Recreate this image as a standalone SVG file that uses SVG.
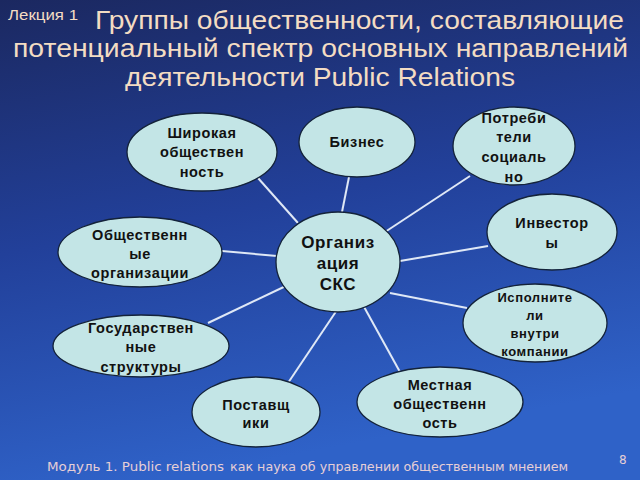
<svg xmlns="http://www.w3.org/2000/svg" width="640" height="480" viewBox="0 0 640 480">
<defs>
<linearGradient id="bg" x1="0" y1="0" x2="0.25" y2="1">
<stop offset="0" stop-color="#1b2860"/>
<stop offset="0.5" stop-color="#22409a"/>
<stop offset="1" stop-color="#2f62c8"/>
</linearGradient>
<style>
.n ellipse{fill:#c3e5e6;stroke:#14233a;stroke-width:1.3}
.n text{font-family:"Liberation Sans",Arial,sans-serif;font-weight:bold;font-size:14.5px;fill:#111;text-anchor:middle;letter-spacing:0.6px}
.c line{stroke:#dfe8f6;stroke-width:2}
.t{font-family:"Liberation Sans",Arial,sans-serif;fill:#f3dcc3}
.f{font-family:"DejaVu Sans",Verdana,sans-serif;fill:#e6cfd6}
</style>
</defs>
<rect width="640" height="480" fill="url(#bg)"/>
<text class="t" x="8" y="19.5" font-size="14" textLength="70" lengthAdjust="spacingAndGlyphs">Лекция 1</text>
<text class="t" x="95" y="28.5" font-size="26" textLength="529" lengthAdjust="spacingAndGlyphs">Группы общественности, составляющие</text>
<text class="t" x="13" y="57" font-size="26" textLength="615" lengthAdjust="spacingAndGlyphs">потенциальный спектр основных направлений</text>
<text class="t" x="125" y="85.5" font-size="26" textLength="390" lengthAdjust="spacingAndGlyphs">деятельности Public Relations</text>
<g class="c">
<line x1="258" y1="178" x2="298" y2="223"/>
<line x1="349" y1="177" x2="342" y2="212"/>
<line x1="470" y1="176" x2="385" y2="232"/>
<line x1="488" y1="246" x2="400" y2="261"/>
<line x1="390" y1="293" x2="467" y2="308"/>
<line x1="363" y1="305" x2="400" y2="372"/>
<line x1="337" y1="310" x2="288" y2="383"/>
<line x1="208" y1="323" x2="290" y2="284"/>
<line x1="222" y1="251" x2="277" y2="256"/>
</g>
<g id="center" class="n">
<ellipse cx="338" cy="262" rx="62" ry="50"/>
<text x="338" y="248" style="font-size:17px">Организ</text>
<text x="338" y="269" style="font-size:17px">ация</text>
<text x="338" y="290" style="font-size:17px">СКС</text>
</g>
<g id="shirokaya" class="n">
<ellipse cx="202" cy="152" rx="75" ry="39"/>
<text x="202" y="138">Широкая</text>
<text x="202" y="157">обществен</text>
<text x="202" y="177">ность</text>
</g>
<g id="biznes" class="n">
<ellipse cx="357" cy="142" rx="58" ry="35"/>
<text x="357" y="147">Бизнес</text>
</g>
<g id="potrebiteli" class="n">
<ellipse cx="514" cy="146" rx="61" ry="39"/>
<text x="514" y="123">Потреби</text>
<text x="514" y="142">тели</text>
<text x="514" y="162">социаль</text>
<text x="514" y="182">но</text>
</g>
<g id="investory" class="n">
<ellipse cx="552" cy="232" rx="65" ry="38"/>
<text x="552" y="228">Инвестор</text>
<text x="552" y="248">ы</text>
</g>
<g id="ispolniteli" class="n">
<ellipse cx="535" cy="323" rx="72" ry="39"/>
<text x="535" y="302" style="font-size:13px">Исполните</text>
<text x="535" y="320" style="font-size:13px">ли</text>
<text x="535" y="338" style="font-size:13px">внутри</text>
<text x="535" y="356" style="font-size:13px">компании</text>
</g>
<g id="mestnaya" class="n">
<ellipse cx="440" cy="402" rx="83" ry="35"/>
<text x="440" y="390">Местная</text>
<text x="440" y="409">общественн</text>
<text x="440" y="428">ость</text>
</g>
<g id="postavshchiki" class="n">
<ellipse cx="256" cy="412" rx="64" ry="35"/>
<text x="256" y="410">Поставщ</text>
<text x="256" y="428">ики</text>
</g>
<g id="gosudarstvennye" class="n">
<ellipse cx="141" cy="346" rx="88" ry="31"/>
<text x="141" y="333">Государствен</text>
<text x="141" y="352">ные</text>
<text x="141" y="372">структуры</text>
</g>
<g id="obshchestvennye" class="n">
<ellipse cx="140" cy="252" rx="82" ry="35"/>
<text x="140" y="240">Общественн</text>
<text x="140" y="259">ые</text>
<text x="140" y="278">организации</text>
</g>
<text class="f" x="47" y="471" font-size="13" textLength="177" lengthAdjust="spacingAndGlyphs">Модуль 1. Public relations</text>
<text class="f" x="230" y="471" font-size="13" textLength="338" lengthAdjust="spacingAndGlyphs">как наука об управлении общественным мнением</text>
<text class="f" x="619" y="464" font-size="12">8</text>
</svg>
